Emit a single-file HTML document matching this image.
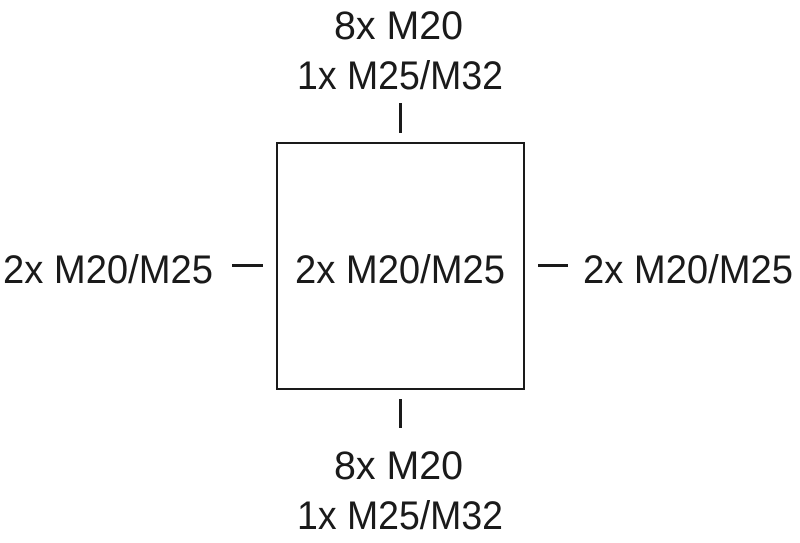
<!DOCTYPE html>
<html><head><style>html,body{margin:0;padding:0;background:#fff}</style></head>
<body>
<svg width="800" height="543" xmlns="http://www.w3.org/2000/svg" style="display:block">
<g font-family="Liberation Sans, sans-serif" font-size="40" fill="#1a1a1a">
<text x="334" y="39" textLength="129" lengthAdjust="spacingAndGlyphs">8x M20</text>
<text x="297" y="89" textLength="206" lengthAdjust="spacingAndGlyphs">1x M25/M32</text>
<text x="334" y="479" textLength="129" lengthAdjust="spacingAndGlyphs">8x M20</text>
<text x="297" y="529" textLength="206" lengthAdjust="spacingAndGlyphs">1x M25/M32</text>
<text x="3" y="283" textLength="210" lengthAdjust="spacingAndGlyphs">2x M20/M25</text>
<text x="295" y="283" textLength="210" lengthAdjust="spacingAndGlyphs">2x M20/M25</text>
<text x="583" y="283" textLength="210" lengthAdjust="spacingAndGlyphs">2x M20/M25</text>
</g>
<rect x="277" y="143" width="247" height="246" fill="none" stroke="#1a1a1a" stroke-width="2"/>
<g stroke="#1a1a1a" stroke-width="3">
<line x1="400.5" y1="103" x2="400.5" y2="133"/>
<line x1="400.5" y1="399" x2="400.5" y2="428"/>
<line x1="232" y1="265.5" x2="263" y2="265.5"/>
<line x1="538" y1="265.5" x2="568" y2="265.5"/>
</g>
</svg>
</body></html>
